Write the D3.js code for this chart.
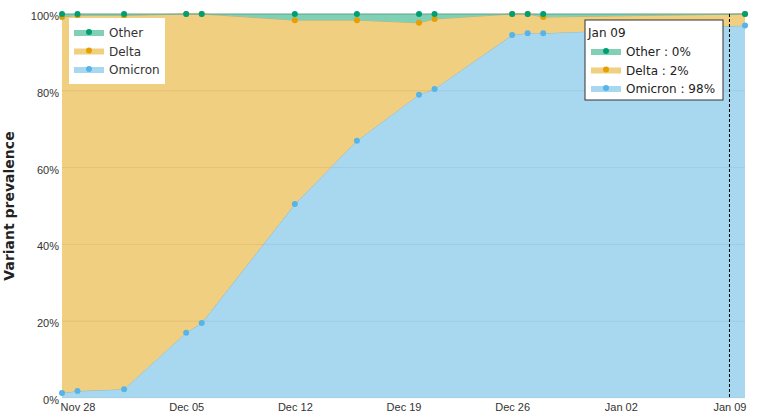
<!DOCTYPE html>
<html>
<head>
<meta charset="utf-8">
<script src="https://cdn.jsdelivr.net/npm/d3@7"></script>
<style>
  body { margin: 0; background: #fff; font-family: Verdana, "DejaVu Sans", sans-serif; }
  .tick text { font-size: 11px; fill: #333; }
</style>
</head>
<body>
<div id="chart"></div>
<script>
// sample dates and share of each variant (%)
const dates = ["2021-11-27", "2021-11-28", "2021-12-01", "2021-12-05", "2021-12-06", "2021-12-12",
  "2021-12-16", "2021-12-20", "2021-12-21", "2021-12-26", "2021-12-27", "2021-12-28", "2022-01-10"];
const omicron = [1.3, 1.8, 2.3, 17, 19.5, 50.5, 67, 79, 80.5, 94.5, 95, 95, 97];
const delta = [97.9, 97.8, 97.3, 83, 80.5, 47.9, 31.4, 18.7, 18.2, 5.5, 5, 4.2, 3];
const other = [0.8, 0.4, 0.4, 0, 0, 1.6, 1.6, 2.3, 1.3, 0, 0, 0.8, 0];
const seriesNames = ["Omicron", "Delta", "Other"];
const fills = { Omicron: "#a8d8f0", Delta: "#f0cf80", Other: "#7fd0b4" };
const dots = { Omicron: "#56b4e9", Delta: "#e69f00", Other: "#009e73" };
const yTicks = [0, 20, 40, 60, 80, 100];
const xTicks = ["2021-11-28", "2021-12-05", "2021-12-12", "2021-12-19", "2021-12-26", "2022-01-02", "2022-01-09"];
const hoverDate = "2022-01-09";
const hoverValues = { Other: 0, Delta: 2, Omicron: 98 };

const W = 758, H = 420;
const m = { left: 62, right: 13, top: 14, bottom: 22 };
const parse = d3.timeParse("%Y-%m-%d");

const svg = d3.select("#chart").append("svg").attr("width", W).attr("height", H);

const x = d3.scaleTime()
  .domain([parse("2021-11-27"), parse("2022-01-10")])
  .range([m.left, W - m.right]);
const y = d3.scaleLinear().domain([0, 100]).range([H - m.bottom, m.top]);

const rows = dates.map((d, i) => ({ date: parse(d), Omicron: omicron[i], Delta: delta[i], Other: other[i] }));
const stacked = d3.stack().keys(seriesNames)(rows);

const area = d3.area().x(d => x(d.data.date)).y0(d => y(d[0])).y1(d => y(Math.min(d[1], 100)));
const line = d3.line().x(d => x(d.data.date)).y(d => y(Math.min(d[1], 100)));

stacked.forEach(s => {
  svg.append("path").attr("d", area(s)).attr("fill", fills[s.key]);
  svg.append("path").attr("d", line(s)).attr("fill", "none")
    .attr("stroke", d3.color(fills[s.key]).darker(0.5)).attr("stroke-width", 1);
});

// faint gridlines
svg.append("g").selectAll("line").data(yTicks).join("line")
  .attr("x1", m.left).attr("x2", W - m.right)
  .attr("y1", d => y(d)).attr("y2", d => y(d))
  .attr("stroke", "#000").attr("stroke-opacity", 0.06);

stacked.forEach(s => {
  svg.append("g").selectAll("circle").data(s).join("circle")
    .attr("cx", d => x(d.data.date)).attr("cy", d => y(Math.min(d[1], 100)))
    .attr("r", 3).attr("fill", dots[s.key]);
});

// axes
const yAxis = svg.append("g").attr("transform", `translate(${m.left},0)`)
  .call(d3.axisLeft(y).tickValues(yTicks).tickFormat(d => d + "%").tickSize(0).tickPadding(3));
yAxis.select(".domain").remove();
yAxis.selectAll("text").attr("dy", "0.5em");

const xAxis = svg.append("g").attr("transform", `translate(0,${H - m.bottom})`)
  .call(d3.axisBottom(x).tickValues(xTicks.map(parse)).tickFormat(d3.timeFormat("%b %d")).tickSize(0).tickPadding(5));
xAxis.select(".domain").remove();

svg.append("text").attr("transform", `translate(14,${(m.top + H - m.bottom) / 2}) rotate(-90)`)
  .attr("text-anchor", "middle").attr("font-size", 14).attr("font-weight", "bold").attr("fill", "#222")
  .text("Variant prevalence");

// legend
function legendSwatch(g, key, lx, ly) {
  g.append("rect").attr("x", lx).attr("y", ly - 3).attr("width", 30).attr("height", 6).attr("fill", fills[key]);
  g.append("circle").attr("cx", lx + 15).attr("cy", ly - 1).attr("r", 3).attr("fill", dots[key]);
}
const legend = svg.append("g");
legend.append("rect").attr("x", 69).attr("y", 18).attr("width", 96).attr("height", 66).attr("fill", "#fff");
["Other", "Delta", "Omicron"].forEach((k, i) => {
  const ly = 33 + i * 18.5;
  legendSwatch(legend, k, 74, ly);
  legend.append("text").attr("x", 109).attr("y", ly + 4).attr("font-size", 12).attr("fill", "#333").text(k);
});

// hover line + tooltip
const hx = x(parse(hoverDate));
svg.append("line").attr("x1", hx).attr("x2", hx).attr("y1", m.top).attr("y2", H - m.bottom)
  .attr("stroke", "#000").attr("stroke-dasharray", "3,2");
const tip = svg.append("g");
tip.append("rect").attr("x", 585).attr("y", 20).attr("width", 138).attr("height", 80)
  .attr("fill", "#fff").attr("stroke", "#333");
tip.append("text").attr("x", 588).attr("y", 37).attr("font-size", 12).attr("fill", "#222")
  .text(d3.timeFormat("%b %d")(parse(hoverDate)));
["Other", "Delta", "Omicron"].forEach((k, i) => {
  const ly = 52 + i * 18.5;
  legendSwatch(tip, k, 591, ly);
  tip.append("text").attr("x", 626).attr("y", ly + 4).attr("font-size", 12).attr("fill", "#222")
    .text(`${k} : ${hoverValues[k]}%`);
});
</script>
</body>
</html>
